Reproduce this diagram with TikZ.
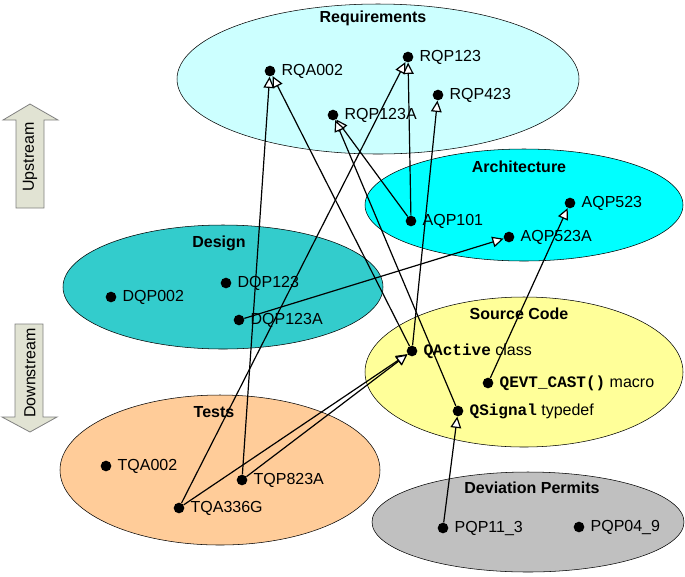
\documentclass[tikz,border=0pt]{standalone}
\usepackage{fontspec}
\setmainfont{Liberation Sans}
\setmonofont{Liberation Mono}
\usetikzlibrary{shapes.geometric, arrows.meta, positioning}
\definecolor{reqfill}{HTML}{CCFFFF}
\definecolor{archfill}{HTML}{00FFFF}
\definecolor{desfill}{HTML}{33CCCC}
\definecolor{srcfill}{HTML}{FFFF99}
\definecolor{testfill}{HTML}{FFCC99}
\definecolor{devfill}{HTML}{C0C0C0}
\definecolor{flowfill}{HTML}{E1E3D3}
\tikzset{
    x=0.75pt, y=-0.75pt, % one unit is one pixel of the sketch
    line width=0.8pt,
    every node/.style={font=\fontsize{12pt}{14pt}\selectfont}, % Arial-like text
    region/.style={ellipse, draw, inner sep=0pt}, % the coloured areas
    title/.style={font=\fontsize{12pt}{14pt}\selectfont\bfseries},
    item/.style={circle, fill=black, inner sep=0pt, minimum size=8pt,
        label={[label distance=1pt]right:#1}}, % a dot with its name
    link/.style={->, line width=0.9pt, >={Triangle[fill=white, length=8.5pt, width=8pt]}}, % open arrow heads
    flow/.style={draw=gray, fill=flowfill, line width=0.6pt},
}

\begin{document}
\begin{tikzpicture}
    \useasboundingbox (0,0) rectangle (685,576);
    % areas
    \node[region, fill=reqfill, minimum width=301.5pt, minimum height=112.5pt] (req) at (378,79) {};
    \node[region, fill=archfill, minimum width=238.5pt, minimum height=84pt] (arch) at (524,205) {};
    \node[region, fill=desfill, minimum width=240pt, minimum height=93pt] (des) at (223,287) {};
    \node[region, fill=srcfill, minimum width=238.5pt, minimum height=112.5pt] (src) at (524,372) {};
    \node[region, fill=testfill, minimum width=240pt, minimum height=112.5pt] (test) at (220,470) {};
    \node[region, fill=devfill, minimum width=234pt, minimum height=75pt] (dev) at (528,522) {};
    \node[title] (reqtitle) at (373,18) {Requirements};
    \node[title] (archtitle) at (519,167) {Architecture};
    \node[title] (destitle) at (219,243) {Design};
    \node[title] (srctitle) at (519,314) {Source Code};
    \node[title] (testtitle) at (214,412) {Tests};
    \node[title] (devtitle) at (532,488) {Deviation Permits};
    % up and down stream
    \draw[flow] (16,208) -- (16,120) -- (3,120) -- (30,104) -- (58,120) -- (44,120) -- (44,208) -- cycle;
    \node[rotate=90] (up) at (30,157) {Upstream};
    \draw[flow] (15,324) -- (43,324) -- (43,417) -- (57,417) -- (30,432) -- (2,417) -- (15,417) -- cycle;
    \node[rotate=90] (down) at (30,373) {Downstream};
    % items
    \node[item=RQA002] (rqa002) at (270,71) {};
    \node[item=RQP123] (rqp123) at (408,57) {};
    \node[item=RQP423] (rqp423) at (438,95) {};
    \node[item=RQP123A] (rqp123a) at (333,115) {};
    \node[item=AQP101] (aqp101) at (411,221) {};
    \node[item=AQP523] (aqp523) at (570,203) {};
    \node[item=AQP523A] (aqp523a) at (509,237) {};
    \node[item=DQP002] (dqp002) at (111,297) {};
    \node[item=DQP123] (dqp123) at (226,283) {};
    \node[item=DQP123A] (dqp123a) at (239,320) {};
    \node[item={\texttt{\bfseries QActive} class}] (qactive) at (412,351) {};
    \node[item={\texttt{\bfseries QEVT\_CAST()} macro}] (qevtcast) at (488,383) {};
    \node[item={\texttt{\bfseries QSignal} typedef}] (qsignal) at (458,411) {};
    \node[item=TQA002] (tqa002) at (106,466) {};
    \node[item=TQP823A] (tqp823a) at (242,480) {};
    \node[item=TQA336G] (tqa336g) at (179,508) {};
    \node[item=PQP11\_3] (pqp113) at (443,528) {};
    \node[item=PQP04\_9] (pqp049) at (579,527) {};
    % traces
    \draw[link]
    (qactive) edge (rqa002)
    (tqp823a) edge (rqa002)
    (tqa336g) edge (rqp123)
    (aqp101) edge (rqp123)
    (qactive) edge (rqp423)
    (aqp101) edge (rqp123a)
    (qsignal) edge (rqp123a)
    (dqp123a) edge (aqp523a)
    (qevtcast) edge (aqp523)
    (tqa336g) edge (qactive)
    (tqp823a) edge (qactive)
    (pqp113) edge (qsignal);
\end{tikzpicture}
\end{document}
